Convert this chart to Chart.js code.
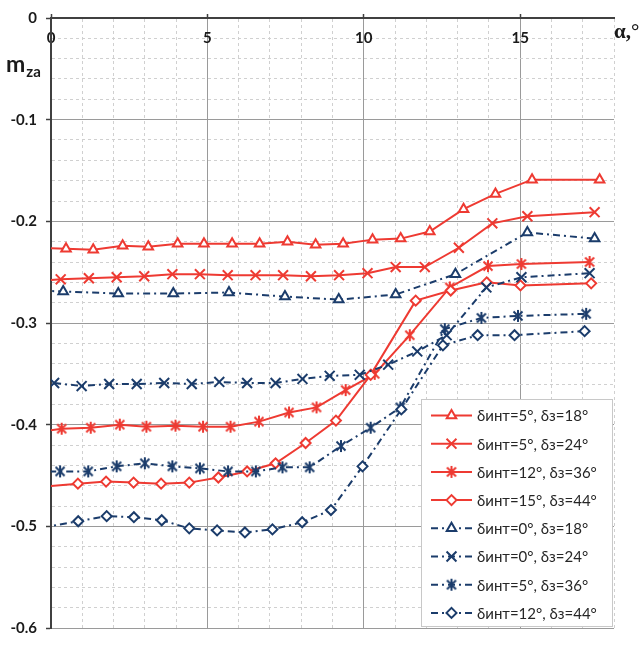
<!DOCTYPE html>
<html>
<head>
<meta charset="utf-8">
<script src="https://cdn.jsdelivr.net/npm/chart.js@4"></script>
<style>
  html, body { margin: 0; padding: 0; background: #fff; }
  canvas { display: block; }
</style>
</head>
<body>
<canvas id="myChart" width="643" height="646"></canvas>
<script>
// angle of attack, deg, and m_za for each flap setting
const alpha_5_18 = [-0.42, 0.48, 1.35, 2.29, 3.11, 4.05, 4.89, 5.79, 6.67, 7.56, 8.46, 9.34, 10.28, 11.18, 12.11, 13.19, 14.21, 15.38, 17.54];
const mza_5_18 = [-0.226, -0.227, -0.228, -0.224, -0.225, -0.222, -0.222, -0.222, -0.222, -0.220, -0.223, -0.222, -0.218, -0.217, -0.210, -0.188, -0.173, -0.159, -0.159];

const alpha_5_24 = [-0.58, 0.31, 1.21, 2.10, 2.98, 3.88, 4.76, 5.65, 6.54, 7.42, 8.31, 9.21, 10.12, 11.02, 11.95, 13.04, 14.11, 15.23, 17.38];
const mza_5_24 = [-0.259, -0.257, -0.256, -0.255, -0.254, -0.252, -0.252, -0.253, -0.253, -0.253, -0.254, -0.253, -0.251, -0.245, -0.245, -0.226, -0.202, -0.195, -0.191];

const alpha_12_36 = [-0.6, 0.34, 1.27, 2.20, 3.05, 3.98, 4.86, 5.74, 6.65, 7.61, 8.49, 9.42, 10.35, 11.47, 12.75, 13.97, 15.04, 17.22];
const mza_12_36 = [-0.408, -0.404, -0.403, -0.400, -0.402, -0.401, -0.402, -0.402, -0.397, -0.388, -0.383, -0.366, -0.350, -0.312, -0.265, -0.244, -0.242, -0.240];

const alpha_15_44 = [-0.25, 0.86, 1.76, 2.64, 3.52, 4.42, 5.35, 6.27, 7.18, 8.14, 9.11, 10.22, 11.66, 12.78, 13.93, 15.01, 17.27];
const mza_15_44 = [-0.461, -0.458, -0.456, -0.457, -0.458, -0.457, -0.452, -0.446, -0.438, -0.418, -0.396, -0.351, -0.278, -0.268, -0.260, -0.263, -0.261];

const alpha_0_18 = [-1.4, 0.39, 2.15, 3.91, 5.69, 7.48, 9.20, 11.02, 12.93, 15.23, 17.38];
const mza_0_18 = [-0.267, -0.269, -0.271, -0.271, -0.270, -0.274, -0.277, -0.272, -0.252, -0.211, -0.217];

const alpha_0_24 = [0.10, 0.98, 1.86, 2.74, 3.62, 4.50, 5.38, 6.27, 7.18, 8.04, 8.91, 9.87, 10.78, 11.71, 12.65, 13.92, 15.04, 17.22];
const mza_0_24 = [-0.359, -0.362, -0.360, -0.360, -0.359, -0.360, -0.358, -0.359, -0.359, -0.355, -0.352, -0.351, -0.341, -0.328, -0.312, -0.265, -0.255, -0.251];

const alpha_5_36 = [-0.6, 0.29, 1.19, 2.10, 3.00, 3.88, 4.76, 5.66, 6.55, 7.40, 8.27, 9.27, 10.22, 11.17, 12.59, 13.76, 14.93, 17.11];
const mza_5_36 = [-0.446, -0.446, -0.446, -0.441, -0.438, -0.441, -0.443, -0.446, -0.446, -0.442, -0.442, -0.421, -0.403, -0.383, -0.306, -0.295, -0.293, -0.291];

const alpha_12_44 = [-0.25, 0.87, 1.78, 2.65, 3.54, 4.42, 5.31, 6.20, 7.08, 8.03, 8.95, 9.96, 11.20, 12.53, 13.64, 14.82, 17.06];
const mza_12_44 = [-0.501, -0.495, -0.490, -0.491, -0.494, -0.502, -0.504, -0.506, -0.503, -0.496, -0.484, -0.441, -0.385, -0.322, -0.312, -0.312, -0.308];

const seriesLabels = [
  'δинт=5°, δз=18°', 'δинт=5°, δз=24°', 'δинт=12°, δз=36°', 'δинт=15°, δз=44°',
  'δинт=0°, δз=18°', 'δинт=0°, δз=24°', 'δинт=5°, δз=36°', 'δинт=12°, δз=44°'
];

const RED = '#ee3a32';
const BLUE = '#1b3c6b';
const DASHDOT = [7, 4, 2, 4];

// asterisk marker: a cross with a vertical bar through it
function asterisk(color) {
  const c = document.createElement('canvas');
  c.width = 14; c.height = 14;
  const g = c.getContext('2d');
  g.strokeStyle = color;
  g.lineWidth = 2;
  g.beginPath();
  g.moveTo(2.5, 2.5); g.lineTo(11.5, 11.5);
  g.moveTo(11.5, 2.5); g.lineTo(2.5, 11.5);
  g.moveTo(7, 1); g.lineTo(7, 13);
  g.stroke();
  return c;
}

function pts(xs, ys) {
  return xs.map((x, i) => ({ x: x, y: ys[i] }));
}

function series(i, xs, ys, color, style, radius, dashed) {
  return {
    label: seriesLabels[i],
    data: pts(xs, ys),
    borderColor: color,
    backgroundColor: '#ffffff',
    borderWidth: 2,
    borderDash: dashed ? DASHDOT : [],
    pointStyle: style,
    pointRadius: radius,
    pointBorderWidth: 2,
    pointBorderColor: color,
    pointBackgroundColor: '#ffffff',
    tension: 0,
    order: 8 - i
  };
}

const datasets = [
  series(0, alpha_5_18, mza_5_18, RED, 'triangle', 5.5, false),
  series(1, alpha_5_24, mza_5_24, RED, 'crossRot', 7, false),
  series(2, alpha_12_36, mza_12_36, RED, asterisk(RED), 6, false),
  series(3, alpha_15_44, mza_15_44, RED, 'rectRot', 5, false),
  series(4, alpha_0_18, mza_0_18, BLUE, 'triangle', 5.5, true),
  series(5, alpha_0_24, mza_0_24, BLUE, 'crossRot', 7, true),
  series(6, alpha_5_36, mza_5_36, BLUE, asterisk(BLUE), 6, true),
  series(7, alpha_12_44, mza_12_44, BLUE, 'rectRot', 5, true)
];

const isMajorX = v => Math.round(v) % 5 === 0;
const isMajorY = v => Math.abs(Math.round(v * 50)) % 5 === 0;

// legend box inside the plot, bottom right
const legendBox = {
  id: 'legendBox',
  beforeDatasetsDraw(chart) {
    const ctx = chart.ctx;
    const left = 421, top = 399, right = 613, bottom = 627;
    ctx.save();
    ctx.fillStyle = '#ffffff';
    ctx.fillRect(left, top, right - left, bottom - top);
    ctx.strokeStyle = '#c8c8c8';
    ctx.lineWidth = 1;
    ctx.strokeRect(left + 0.5, top + 0.5, right - left - 1, bottom - top - 1);
    chart.data.datasets.forEach((ds, i) => {
      const y = 415.5 + i * 28.2;
      ctx.strokeStyle = ds.borderColor;
      ctx.lineWidth = 2;
      ctx.setLineDash(ds.borderDash);
      ctx.beginPath();
      ctx.moveTo(431, y);
      ctx.lineTo(472, y);
      ctx.stroke();
      ctx.setLineDash([]);
      ctx.fillStyle = '#ffffff';
      Chart.helpers.drawPoint(ctx, {
        pointStyle: ds.pointStyle, rotation: 0,
        radius: ds.pointRadius, borderWidth: 2
      }, 451.5, y);
      ctx.fillStyle = '#262626';
      ctx.font = '15px Lato';
      ctx.textAlign = 'left';
      ctx.textBaseline = 'middle';
      ctx.fillText(ds.label, 477, y + 1);
    });
    ctx.restore();
  }
};

// axis names: α,° at the top right, m_za at the top left
const axisNames = {
  id: 'axisNames',
  afterDraw(chart) {
    const ctx = chart.ctx;
    ctx.save();
    ctx.fillStyle = '#1a1a1a';
    ctx.textBaseline = 'alphabetic';
    ctx.textAlign = 'left';
    ctx.font = 'bold 21px "Liberation Serif"';
    ctx.fillText('α,°', 614, 38);
    ctx.font = 'bold 23px Lato';
    ctx.fillText('m', 6, 72);
    const mw = ctx.measureText('m').width;
    ctx.font = 'bold 15px Lato';
    ctx.fillText('za', 6 + mw + 1, 77);
    ctx.restore();
  }
};

const ctx = document.getElementById('myChart');

new Chart(ctx, {
  type: 'line',
  data: { datasets: datasets },
  plugins: [legendBox, axisNames],
  options: {
    responsive: false,
    animation: false,
    layout: { padding: { left: 0, top: 0, right: 29, bottom: 9 } },
    plugins: {
      legend: { display: false },
      tooltip: { enabled: false }
    },
    scales: {
      x: {
        type: 'linear',
        position: 'top',
        min: 0,
        max: 18,
        afterFit(scale) { scale.height = 15; },
        ticks: {
          stepSize: 1,
          autoSkip: false,
          maxRotation: 0,
          mirror: true,   // labels sit inside the plot, under the axis line
          padding: 11,
          color: '#1a1a1a',
          font: { family: 'Lato', size: 15, weight: 'bold' },
          callback: v => isMajorX(v) ? String(v) : ''
        },
        grid: {
          color: c => isMajorX(c.tick.value) ? '#9a9a9a' : '#d0d0d0',
          lineWidth: 1,
          tickLength: 4,
          tickWidth: 1.5,
          tickColor: c => isMajorX(c.tick.value) ? '#404040' : 'rgba(0,0,0,0)'
        },
        border: {
          color: '#404040',
          width: 2,
          dash: c => (c.tick && !isMajorX(c.tick.value)) ? [3, 3] : []
        }
      },
      y: {
        min: -0.6,
        max: 0,
        afterFit(scale) { scale.width = 51; },
        ticks: {
          stepSize: 0.02,
          autoSkip: false,
          padding: 9,
          color: '#1a1a1a',
          font: { family: 'Lato', size: 15, weight: 'bold' },
          callback: v => isMajorY(v) ? (v === 0 ? '0' : v.toFixed(1)) : ''
        },
        grid: {
          color: c => isMajorY(c.tick.value) ? '#9a9a9a' : '#d0d0d0',
          lineWidth: 1,
          tickLength: 5,
          tickWidth: 1.5,
          tickColor: c => isMajorY(c.tick.value) ? '#404040' : 'rgba(0,0,0,0)'
        },
        border: {
          color: '#404040',
          width: 2,
          dash: c => (c.tick && !isMajorY(c.tick.value)) ? [3, 3] : []
        }
      }
    }
  }
});
</script>
</body>
</html>
